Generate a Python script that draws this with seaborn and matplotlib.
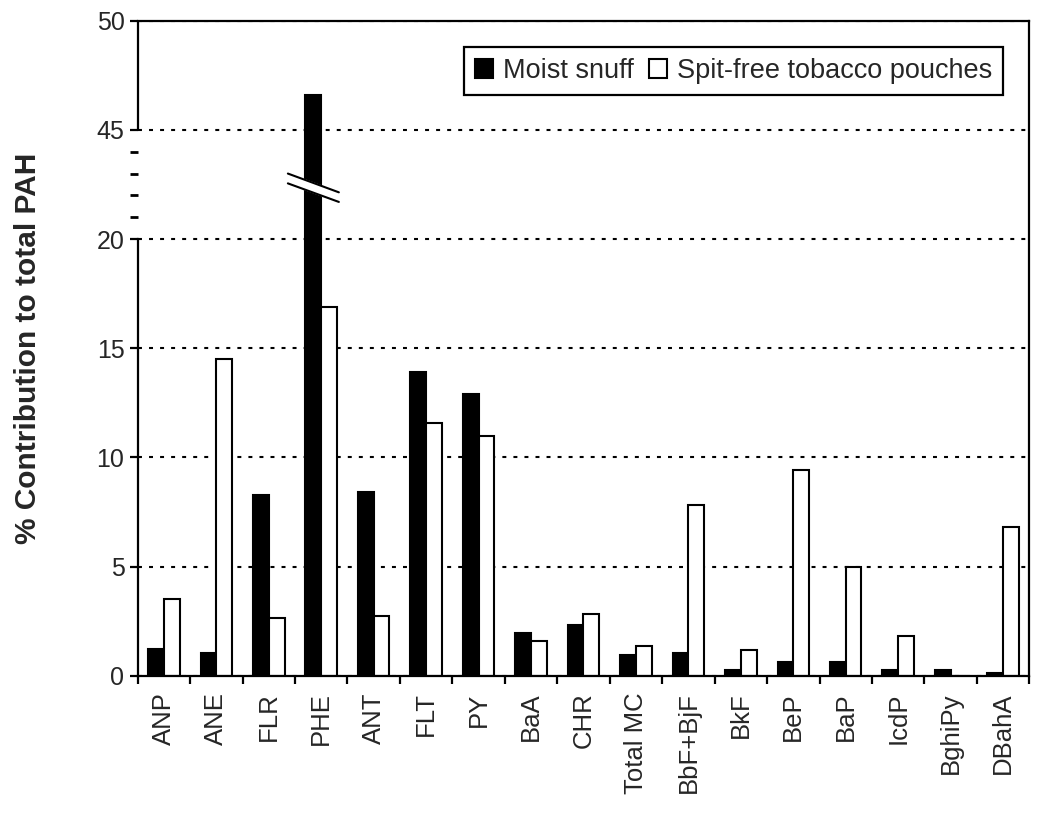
import numpy as np
import pandas as pd
import seaborn as sns
import matplotlib.pyplot as plt

# values (% contribution to total PAH)
compounds = ["ANP", "ANE", "FLR", "PHE", "ANT", "FLT", "PY", "BaA", "CHR",
             "Total MC", "BbF+BjF", "BkF", "BeP", "BaP", "IcdP", "BghiPy", "DBahA"]
moist_snuff = [1.21, 1.06, 8.28, 46.6, 8.42, 13.93, 12.92, 1.95, 2.30,
               0.95, 1.06, 0.28, 0.61, 0.61, 0.28, 0.28, 0.12]
spit_free = [3.52, 14.49, 2.62, 16.87, 2.75, 11.57, 10.99, 1.59, 2.83,
             1.36, 7.81, 1.17, 9.41, 4.98, 1.84, 0.0, 6.81]
products = ["Moist snuff", "Spit-free tobacco pouches"]

y_ticks = [0, 5, 10, 15, 20, 45, 50]
y_minor = [25, 30, 35, 40]


# broken axis: 20..45 squeezed into one 5-unit step
def forward(v):
    v = np.asarray(v, dtype=float)
    return np.where(v <= 20, v, np.where(v <= 45, 20 + (v - 20) / 5, 25 + (v - 45)))


def inverse(d):
    d = np.asarray(d, dtype=float)
    return np.where(d <= 20, d, np.where(d <= 25, 20 + (d - 20) * 5, 45 + (d - 25)))


df = pd.DataFrame({
    "Compound": compounds * 2,
    "Product": [products[0]] * len(compounds) + [products[1]] * len(compounds),
    "Value": moist_snuff + spit_free,
})

sns.set_style("white")
plt.rcParams["font.family"] = ["Liberation Sans", "DejaVu Sans"]

fig, ax = plt.subplots(figsize=(10.5, 8.13), dpi=100)
fig.subplots_adjust(left=0.1311, right=0.9803, bottom=0.1689, top=0.9745)

sns.barplot(data=df, x="Compound", y="Value", hue="Product",
            palette={products[0]: "black", products[1]: "white"},
            edgecolor="black", linewidth=1.5, width=0.6, ax=ax)

ax.set_yscale("function", functions=(forward, inverse))
ax.set_ylim(0, 50)
ax.set_xlim(-0.5, len(compounds) - 0.5)

ax.set_yticks(y_ticks)
ax.set_yticks(y_minor, minor=True)
ax.set_yticklabels([str(t) for t in y_ticks])
ax.tick_params(axis="y", which="major", left=True, length=5.5, width=1.6,
               labelsize=18, pad=4, color="black")
ax.tick_params(axis="y", which="minor", left=True, length=5.5, width=2, color="black")

ax.set_xticks(np.arange(-0.5, len(compounds)), minor=True)
ax.tick_params(axis="x", which="minor", bottom=True, length=6, width=1.6, color="black")
ax.tick_params(axis="x", which="major", bottom=False, length=0, labelsize=18.5,
               pad=12, labelrotation=90)

ax.set_axisbelow(True)
ax.yaxis.grid(True, which="major", color="black", linestyle=(0, (1.9, 3.4)), linewidth=1.5)
ax.xaxis.grid(False)

for s in ax.spines.values():
    s.set_visible(True)
    s.set_color("black")
    s.set_linewidth(1.6)
ax.spines["left"].set_bounds(0, 20)
ax.plot([0, 0], [45, 50], transform=ax.get_yaxis_transform(), color="black",
        lw=1.6, clip_on=False)

# break marks on the tall PHE bar
phe_bar = ax.containers[0][compounds.index("PHE")]
cx = phe_bar.get_x() + phe_bar.get_width() / 2
half = 0.486
brk_top = (35.0, 30.7)
brk_bot = (32.75, 28.5)
ax.fill([cx - half, cx + half, cx + half, cx - half],
        [brk_top[0], brk_top[1], brk_bot[1], brk_bot[0]],
        color="white", zorder=4)
ax.plot([cx - half, cx + half], brk_top, color="black", lw=1.5, zorder=5)
ax.plot([cx - half, cx + half], brk_bot, color="black", lw=1.5, zorder=5)

ax.set_xlabel("")
ax.set_ylabel("% Contribution to total PAH", fontsize=21.5, fontweight="bold")
ax.yaxis.set_label_coords(-0.107, 0.5)

handles, labels = ax.get_legend_handles_labels()
leg = ax.legend(handles, labels, ncol=2, loc="upper right", fontsize=19.5,
                frameon=True, fancybox=False, edgecolor="black", framealpha=1,
                handlelength=0.67, handleheight=0.67, handletextpad=0.37,
                columnspacing=0.55, borderpad=0.4, borderaxespad=0.98)
leg.get_frame().set_linewidth(1.6)

fig.savefig("out.png", dpi=100)
